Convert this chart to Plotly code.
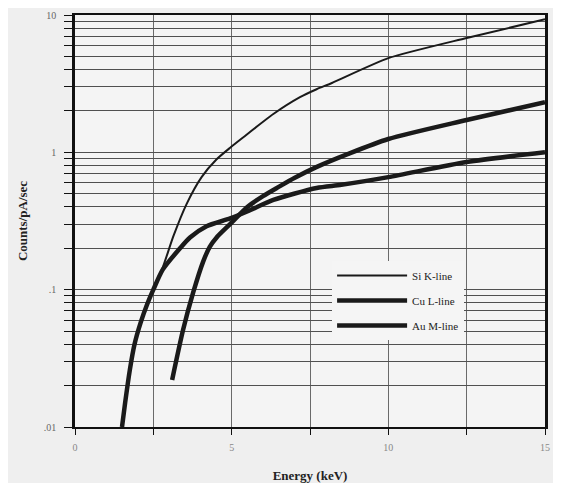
import plotly.graph_objects as go

# Data
si_x = [1.5, 1.6, 1.75, 1.9, 2.1, 2.3, 2.5, 2.8, 3.14, 3.56, 4.04, 4.52, 4.95, 5.3, 6.33, 7.18, 7.71, 8.2, 10, 12.5, 15]
si_y = [0.01, 0.015, 0.026, 0.04, 0.058, 0.078, 0.1, 0.145, 0.245, 0.42, 0.66, 0.89, 1.08, 1.25, 1.9, 2.52, 2.88, 3.2, 4.85, 6.8, 9.3]

cu_x = [3.1, 3.45, 3.77, 4.09, 4.3, 4.52, 4.95, 5.5, 6.0, 6.5, 7.0, 7.7, 8.7, 10, 12.5, 15]
cu_y = [0.022, 0.051, 0.095, 0.16, 0.205, 0.24, 0.30, 0.40, 0.48, 0.56, 0.65, 0.78, 0.97, 1.25, 1.72, 2.32]

au_x = [1.5, 1.6, 1.75, 1.9, 2.1, 2.3, 2.5, 2.8, 3.35, 3.67, 4.2, 4.95, 5.6, 6.33, 7.71, 8.5, 10, 12.5, 15]
au_y = [0.01, 0.015, 0.026, 0.04, 0.058, 0.078, 0.1, 0.14, 0.2, 0.24, 0.29, 0.33, 0.38, 0.45, 0.55, 0.58, 0.66, 0.85, 1.0]

series_names = ["Si K-line", "Cu L-line", "Au M-line"]

x_tickvals = [0, 2.5, 5, 7.5, 10, 12.5, 15]
x_ticktext = ["0", "", "5", "", "10", "", "15"]

y_tickvals = [m * 10 ** e for e in (-2, -1, 0) for m in range(1, 10)] + [10]
y_labels = {0.01: ".01", 0.1: ".1", 1: "1", 10: "10"}
y_ticktext = [y_labels.get(round(v, 6), "") for v in y_tickvals]

serif = "Liberation Serif, DejaVu Serif, serif"

fig = go.Figure()
fig.add_trace(go.Scatter(x=si_x, y=si_y, mode="lines", name=series_names[0],
                         line=dict(color="#1a1a1a", width=2, shape="spline", smoothing=0.6),
                         legendgroup="a"))
fig.add_trace(go.Scatter(x=cu_x, y=cu_y, mode="lines", name=series_names[1],
                         line=dict(color="#1a1a1a", width=4.5, shape="spline", smoothing=0.7),
                         legendgroup="b"))
fig.add_trace(go.Scatter(x=au_x, y=au_y, mode="lines", name=series_names[2],
                         line=dict(color="#1a1a1a", width=4.5, shape="spline", smoothing=0.7),
                         legendgroup="c"))

fig.update_layout(
    width=553, height=475,
    margin=dict(l=67, r=16, t=7, b=56),
    paper_bgcolor="#efefef",
    plot_bgcolor="#f4f4f4",
    font=dict(family=serif, color="#222"),
    legend=dict(
        x=0.547, y=0.403, xanchor="left", yanchor="top",
        bgcolor="#f5f5f5", borderwidth=0,
        font=dict(family=serif, size=11, color="#222"),
        tracegroupgap=6, itemwidth=70,
    ),
    xaxis=dict(
        range=[0, 15], tickvals=x_tickvals, ticktext=x_ticktext,
        showgrid=True, gridcolor="#6a6a6a", gridwidth=1,
        zeroline=False, showline=True, linecolor="#111", linewidth=2, mirror=True,
        ticks="outside", ticklen=6, tickcolor="#111", ticklabelstandoff=4,
        tickfont=dict(size=10, color="#888"),
        automargin=False,
        title=dict(text="<b>Energy (keV)</b>", font=dict(size=13, color="#222"), standoff=24),
    ),
    yaxis=dict(
        type="log", range=[-2, 1], tickvals=y_tickvals, ticktext=y_ticktext,
        showgrid=True, gridcolor="#505050", gridwidth=1.3,
        zeroline=False, showline=True, linecolor="#111", linewidth=2.5, mirror=True,
        ticks="outside", ticklen=8, tickcolor="#111", ticklabelstandoff=6,
        tickfont=dict(size=10, color="#666"),
        automargin=False,
        title=dict(text="<b>Counts/pA/sec</b>", font=dict(size=13, color="#222"), standoff=14),
    ),
)

fig.write_html("out.html")
